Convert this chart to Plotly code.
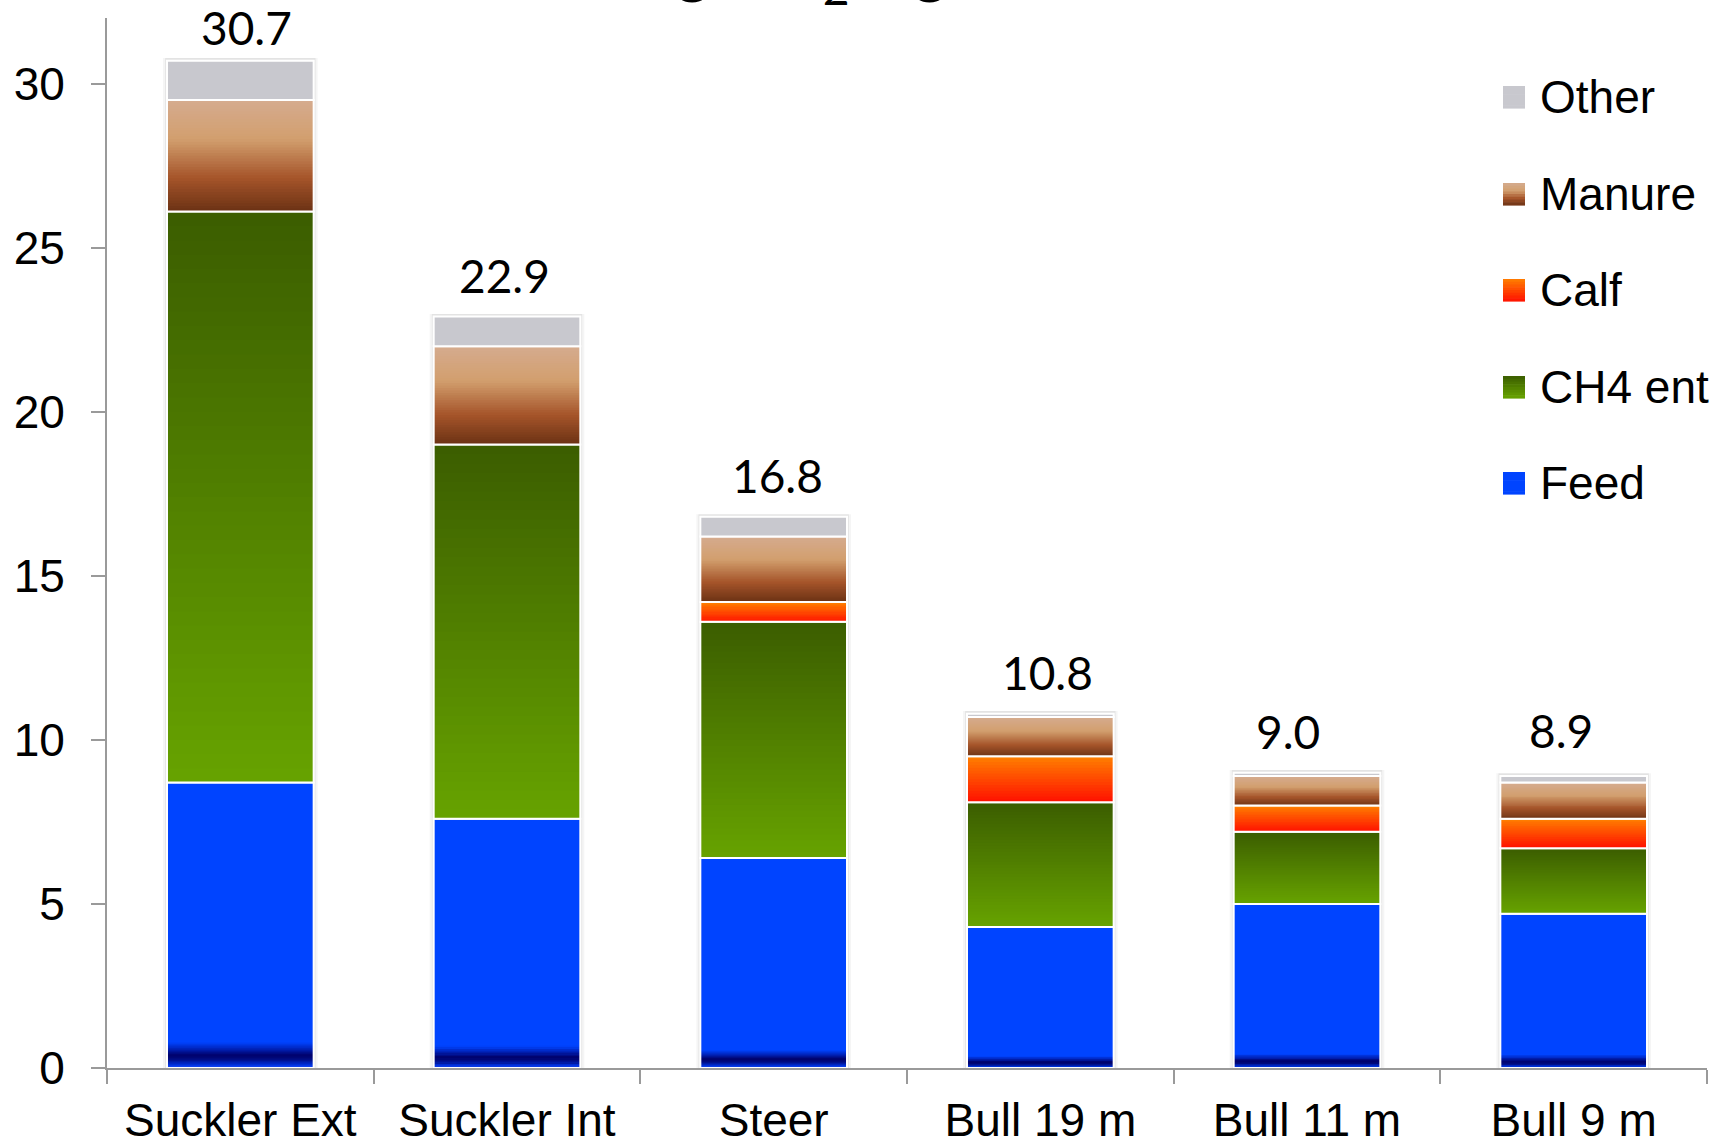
import plotly.graph_objects as go

# Emissions per source, stacked per production system
categories = ["Suckler Ext", "Suckler Int", "Steer", "Bull 19 m", "Bull 11 m", "Bull 9 m"]
feed = [8.7, 7.6, 6.4, 4.3, 5.0, 4.7]
ch4_ent = [17.4, 11.4, 7.2, 3.8, 2.2, 2.0]
calf = [0.0, 0.0, 0.6, 1.4, 0.8, 0.9]
manure = [3.4, 3.0, 2.0, 1.2, 0.9, 1.1]
other = [1.2, 0.9, 0.6, 0.1, 0.1, 0.2]
y_ticks = [0, 5, 10, 15, 20, 25, 30]

series_names = ["Feed", "CH4 ent", "Calf", "Manure", "Other"]
series_values = [feed, ch4_ent, calf, manure, other]

# Vertical colour ramps for each segment (t = 0 at segment bottom, 1 at top)
ramps = {
    "Feed": [(0.0, "#1a4cff"), (0.012, "#0030d8"), (0.03, "#000c82"), (0.045, "#00006a"),
             (0.065, "#0020b4"), (0.09, "#0044ff"), (1.0, "#0044ff")],
    "CH4 ent": [(0.0, "#67a300"), (1.0, "#3b5d00")],
    "Calf": [(0.0, "#ff1000"), (1.0, "#ff8000")],
    "Manure": [(0.0, "#6b3214"), (0.3, "#a5542a"), (0.65, "#d29f6e"), (1.0, "#d5ab8f")],
    "Other": [(0.0, "#c8c8ce"), (1.0, "#c8c8ce")],
}
# band edges (fractions of each segment) used to paint the ramps
band_edges = {
    "Feed": [i / 200 for i in range(21)] + [1.0],
    "CH4 ent": [i / 40 for i in range(41)],
    "Calf": [i / 16 for i in range(17)],
    "Manure": [i / 40 for i in range(41)],
    "Other": [0.0, 1.0],
}
BAR_W = 0.55
FONT = "Liberation Sans, Arial, sans-serif"
NUM_FONT = "Lato, Open Sans, sans-serif"


def hex_rgb(h):
    h = h.lstrip("#")
    return [int(h[i:i + 2], 16) for i in (0, 2, 4)]


def ramp_color(stops, t):
    for (t0, c0), (t1, c1) in zip(stops[:-1], stops[1:]):
        if t <= t1:
            f = 0 if t1 == t0 else (t - t0) / (t1 - t0)
            a, b = hex_rgb(c0), hex_rgb(c1)
            return "rgb(%d,%d,%d)" % tuple(round(x + (y - x) * f) for x, y in zip(a, b))
    return "rgb(%d,%d,%d)" % tuple(hex_rgb(stops[-1][1]))


totals = [round(sum(v), 1) for v in zip(*series_values)]

fig = go.Figure()

# soft shadow behind each column
for w, a in [(BAR_W + 0.03, 0.04), (BAR_W + 0.014, 0.07)]:
    fig.add_bar(x=categories, y=[t + 0.08 for t in totals], base=[0] * len(categories),
                width=w, marker_color="rgba(0,0,0,%.2f)" % a, marker_line_width=0,
                showlegend=False, hoverinfo="skip")

bottoms = [0.0] * len(categories)
for name, vals in zip(series_names, series_values):
    edges = band_edges[name]
    for k, (t0, t1) in enumerate(zip(edges[:-1], edges[1:])):
        col = ramp_color(ramps[name], (t0 + t1) / 2)
        last = k == len(edges) - 2
        # each band reaches a little into the next one so no seams show between them
        reach = t1 - t0 if last else min((t1 - t0) * 1.6, 1.0 - t0)
        fig.add_bar(
            x=categories,
            y=[v * reach if v > 0 else None for v in vals],
            base=[b + v * t0 for b, v in zip(bottoms, vals)],
            width=BAR_W, marker_color=col, marker_line_width=0,
            showlegend=False, hoverinfo="skip",
        )
    # white edge around each segment
    fig.add_bar(
        x=categories, y=[v if v > 0 else None for v in vals], base=bottoms,
        width=BAR_W, name=name, marker_color="rgba(0,0,0,0)",
        marker_line=dict(color="white", width=2), showlegend=False,
        hovertemplate="%{x}<br>" + name + ": %{y}<extra></extra>",
    )
    bottoms = [b + v for b, v in zip(bottoms, vals)]

# totals above the columns
label_dx = [6, -3, 4, 7, -19, -13]
label_dy = [4, 12, 12, 12, 12, 16]
annotations = []
for c, t, dx, dy in zip(categories, totals, label_dx, label_dy):
    annotations.append(dict(x=c, y=t, xref="x", yref="y", text=f"{t:.1f}", showarrow=False,
                            yanchor="bottom", yshift=dy, xshift=dx,
                            font=dict(family=NUM_FONT, size=46, color="black")))

# title, mostly above the page edge
annotations.append(dict(x=(640 - 107) / 1600, y=1, xref="paper", yref="paper", xanchor="left",
                        yanchor="bottom", yshift=1, showarrow=False,
                        text="kg CO<sub>2</sub>/kg",
                        font=dict(family=NUM_FONT, size=66, color="black")))

# legend drawn as swatches and labels in the upper right
shapes = []
PLOT_L, PLOT_W, PLOT_B, PLOT_H = 107, 1600, 1067, 1050
legend_rows = [("Other", 96), ("Manure", 193), ("Calf", 289), ("CH4 ent", 386), ("Feed", 482)]
for name, cy in legend_rows:
    k = 8
    for j in range(k):
        top = cy - 11 + 22 * j / k
        bot = cy - 11 + 22 * (j + 1) / k
        col = ramp_color(ramps[name] if name != "Feed" else [(0, "#0044ff"), (1, "#0044ff")],
                         1 - (j + 0.5) / k)
        shapes.append(dict(type="rect", xref="paper", yref="paper",
                           x0=(1503 - PLOT_L) / PLOT_W, x1=(1525 - PLOT_L) / PLOT_W,
                           y0=(PLOT_B - bot - 0.6) / PLOT_H, y1=(PLOT_B - top) / PLOT_H,
                           fillcolor=col, line=dict(width=0), layer="above"))
    annotations.append(dict(x=(1538 - PLOT_L) / PLOT_W, y=(PLOT_B - cy) / PLOT_H,
                            xref="paper", yref="paper", xanchor="left", yanchor="middle",
                            text=name, showarrow=False,
                            font=dict(family=FONT, size=46, color="black")))

fig.update_layout(
    barmode="overlay",
    width=1729, height=1145,
    margin=dict(l=107, r=22, t=18, b=77, autoexpand=False),
    paper_bgcolor="white", plot_bgcolor="white",
    showlegend=False,
    annotations=annotations, shapes=shapes,
    font=dict(family=FONT, size=46, color="black"),
)
fig.update_xaxes(
    type="category", range=[-0.5, 5.5], showgrid=False, zeroline=False,
    showline=True, linecolor="#9a9a9a", linewidth=2,
    ticks="outside", tickson="boundaries", ticklen=14, tickwidth=2, tickcolor="#9a9a9a",
    tickfont=dict(family=FONT, size=46, color="black"), ticklabelstandoff=11,
    automargin=False,
)
fig.update_yaxes(
    range=[0, 32], tickvals=y_ticks, showgrid=False, zeroline=False,
    showline=True, linecolor="#9a9a9a", linewidth=2,
    ticks="outside", ticklen=14, tickwidth=2, tickcolor="#9a9a9a",
    tickfont=dict(family=FONT, size=46, color="black"), ticklabelstandoff=17,
    automargin=False,
)

fig.write_html("out.html")
